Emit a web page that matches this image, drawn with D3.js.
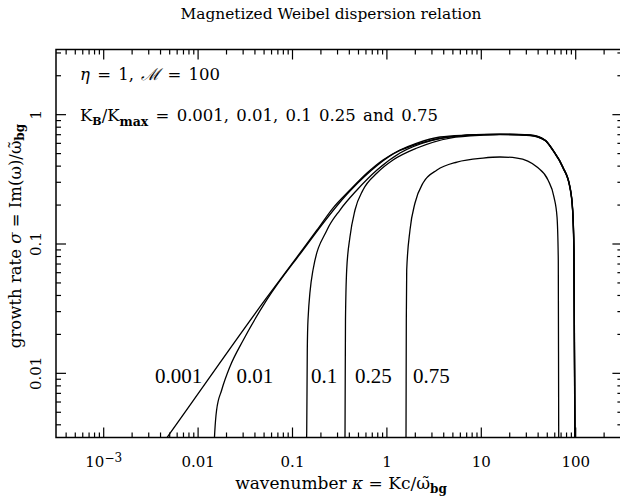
<!DOCTYPE html>
<html>
<head>
<meta charset="utf-8">
<script src="https://cdn.jsdelivr.net/npm/d3@7"></script>
<style>
  body { margin: 0; background: #fff; }
  svg { display: block; }
</style>
</head>
<body>
<script>
// growth rate curves, [kappa, sigma]
const curve0001 = [
  [0.0045, 0.003], [0.00478, 0.00319], [0.0518, 0.0366], [0.1216, 0.0845], [0.184, 0.1272],
  [0.2716, 0.188], [0.411, 0.2593], [0.623, 0.3508], [0.92, 0.4421], [1.393, 0.528],
  [2.11, 0.598], [3.7, 0.666], [7.14, 0.69], [15.97, 0.702], [33.2, 0.69], [47.9, 0.631],
  [58.2, 0.528], [74.2, 0.39], [88.1, 0.2734], [94.1, 0.1815], [97.1, 0.0891], [99.5, 0.003]
];
const curve001 = [
  [0.01503, 0.003], [0.0152, 0.0035], [0.0159, 0.00516], [0.018, 0.00736], [0.022, 0.01115],
  [0.0305, 0.01795], [0.054, 0.0366], [0.1216, 0.0829], [0.411, 0.2547], [1.393, 0.524],
  [7.14, 0.687], [15.97, 0.699], [33.2, 0.688], [47.9, 0.629], [58.2, 0.526], [74.2, 0.388],
  [88.1, 0.272], [94.1, 0.18], [97.0, 0.088], [99.4, 0.003]
];
const curve01 = [
  [0.1424, 0.003], [0.1432, 0.0035], [0.1452, 0.015], [0.1477, 0.0256], [0.1669, 0.0624],
  [0.2349, 0.1272], [0.3225, 0.1815], [0.488, 0.2593], [0.795, 0.37], [1.393, 0.501],
  [3.117, 0.631], [7.14, 0.685], [15.97, 0.697], [33.2, 0.686], [47.9, 0.627], [58.2, 0.524],
  [74.2, 0.386], [88.1, 0.27], [94.0, 0.179], [96.9, 0.087], [99.3, 0.003]
];
const curve025 = [
  [0.364, 0.003], [0.3645, 0.0035], [0.3686, 0.0256], [0.3796, 0.0624], [0.411, 0.1122],
  [0.465, 0.1815], [0.565, 0.2593], [0.795, 0.3508], [1.175, 0.4421], [2.11, 0.5475],
  [4.72, 0.654], [10.55, 0.688], [15.97, 0.695], [33.2, 0.684], [47.9, 0.625], [58.2, 0.522],
  [74.2, 0.384], [88.0, 0.268], [93.9, 0.178], [96.8, 0.086], [99.2, 0.003]
];
const curve075 = [
  [1.613, 0.003], [1.614, 0.0035], [1.625, 0.0256], [1.641, 0.0624], [1.778, 0.1272],
  [2.009, 0.2056], [2.442, 0.2936], [3.436, 0.37], [5.597, 0.4267], [10.55, 0.458],
  [15.97, 0.4665], [24.2, 0.458], [39.4, 0.39], [51.5, 0.3097], [59.6, 0.2288], [64.2, 0.1602],
  [66.2, 0.0745], [66.85, 0.0035], [66.9, 0.003]
];
const curves = [curve0001, curve001, curve01, curve025, curve075];
const curveLabels = ['0.001', '0.01', '0.1', '0.25', '0.75'];
const xMajor = [1e-3, 1e-2, 1e-1, 1, 10, 100];
const yMajor = [0.01, 0.1, 1];

const width = 620, height = 497;
const margin = { top: 49.5, right: -2.4, bottom: 59.5, left: 56 };
const innerW = width - margin.left - margin.right;
const innerH = height - margin.top - margin.bottom;

const svg = d3.select('body').append('svg')
    .attr('width', width)
    .attr('height', height);

const x = d3.scaleLog().domain([Math.pow(10, -3.5), Math.pow(10, 2.5)]).range([0, innerW]);
const y = d3.scaleLog().domain([Math.pow(10, -2.5), Math.pow(10, 0.5)]).range([innerH, 0]);

const g = svg.append('g')
    .attr('transform', 'translate(' + margin.left + ',' + margin.top + ')');

svg.append('defs').append('clipPath').attr('id', 'plot')
  .append('rect').attr('width', innerW).attr('height', innerH);

const serifFont = '"Liberation Serif", "Times New Roman", serif';
const hersheyFont = '"DejaVu Serif", serif';

// minor ticks = everything d3 gives that is not a decade
const isMajor = v => Math.abs(Math.log10(v) - Math.round(Math.log10(v))) < 1e-6;
const xMinor = x.ticks().filter(v => !isMajor(v));
const yMinor = y.ticks().filter(v => !isMajor(v));

function tickAxis(axisFn, scale, values, size, tx, ty) {
  const a = g.append('g')
    .attr('transform', 'translate(' + tx + ',' + ty + ')')
    .call(axisFn(scale).tickValues(values).tickSize(-size).tickFormat(''));
  a.select('.domain').remove();
  a.selectAll('line').attr('stroke', '#000').attr('stroke-width', 1.2);
  return a;
}

// ticks on all four sides pointing inwards
[[d3.axisBottom, x, 0, innerH], [d3.axisTop, x, 0, 0]].forEach(([fn, s, tx, ty]) => {
  tickAxis(fn, s, xMajor, 10, tx, ty);
  tickAxis(fn, s, xMinor, 5, tx, ty);
});
[[d3.axisLeft, y, 0, 0], [d3.axisRight, y, innerW, 0]].forEach(([fn, s, tx, ty]) => {
  tickAxis(fn, s, yMajor, 10, tx, ty);
  tickAxis(fn, s, yMinor, 5, tx, ty);
});

// tick labels
const xLab = g.append('g')
    .attr('transform', 'translate(0,' + innerH + ')')
    .call(d3.axisBottom(x).tickValues(xMajor).tickSize(0).tickPadding(19)
      .tickFormat(d => d === 1e-3 ? '' : d3.format('~g')(d)));
xLab.select('.domain').remove();
xLab.selectAll('text').attr('font-family', hersheyFont).attr('font-size', 15).attr('fill', '#000');
xLab.selectAll('.tick').filter(d => d === 1e-3).select('text')
  .call(t => {
    t.append('tspan').text('10');
    t.append('tspan').attr('dy', '-0.45em').attr('font-size', 12).text('\u22123');
  });

const yLab = g.append('g')
    .call(d3.axisLeft(y).tickValues(yMajor).tickSize(0).tickFormat(d3.format('~g')));
yLab.select('.domain').remove();
yLab.selectAll('text')
    .attr('font-family', hersheyFont).attr('font-size', 15).attr('fill', '#000')
    .attr('transform', 'rotate(-90)')
    .attr('x', 0).attr('y', -15).attr('dy', 0)
    .attr('text-anchor', 'middle');

// frame
g.append('rect')
    .attr('width', innerW).attr('height', innerH)
    .attr('fill', 'none').attr('stroke', '#000').attr('stroke-width', 1.5);

// curves
const line = d3.line()
    .x(d => x(d[0]))
    .y(d => y(d[1]))
    .curve(d3.curveMonotoneX);

g.append('g').attr('clip-path', 'url(#plot)')
  .selectAll('path')
  .data(curves)
  .join('path')
    .attr('d', line)
    .attr('fill', 'none')
    .attr('stroke', '#000')
    .attr('stroke-width', 1.3);

// curve labels placed at the bottom of the panel
const labelK = [0.00354, 0.0258, 0.159, 0.465, 1.91];
g.selectAll('.clabel')
  .data(curveLabels)
  .join('text')
    .attr('class', 'clabel')
    .attr('x', (d, i) => x(labelK[i]))
    .attr('y', y(0.00834))
    .attr('font-family', serifFont)
    .attr('font-size', 21)
    .text(d => d);

// annotations
const ann1 = g.append('text')
    .attr('x', 24).attr('y', 30)
    .attr('font-family', hersheyFont).attr('font-size', 16.5)
    .attr('word-spacing', 2);
ann1.append('tspan').attr('font-style', 'italic').text('\u03b7');
ann1.append('tspan').text(' = 1, ');
ann1.append('tspan').attr('font-style', 'italic').text('\u2133');
ann1.append('tspan').text(' = 100');

const ann2 = g.append('text')
    .attr('x', 24).attr('y', 71)
    .attr('font-family', hersheyFont).attr('font-size', 16.5)
    .attr('word-spacing', 2);
ann2.append('tspan').text('K');
ann2.append('tspan').attr('dy', 4).attr('font-size', 11).attr('font-weight', 'bold').text('B');
ann2.append('tspan').attr('dy', -4).text('/K');
ann2.append('tspan').attr('dy', 5).attr('font-size', 12.5).attr('font-weight', 'bold').text('max');
ann2.append('tspan').attr('dy', -5).text(' = 0.001, 0.01, 0.1 0.25 and 0.75');

// title
svg.append('text')
    .attr('x', 331).attr('y', 19)
    .attr('text-anchor', 'middle')
    .attr('font-family', hersheyFont).attr('font-size', 15.4)
    .text('Magnetized Weibel dispersion relation');

// axis titles
const xt = svg.append('text')
    .attr('x', 341).attr('y', 489)
    .attr('text-anchor', 'middle')
    .attr('font-family', hersheyFont).attr('font-size', 17);
xt.append('tspan').text('wavenumber ');
xt.append('tspan').attr('font-style', 'italic').text('\u03ba');
xt.append('tspan').text(' = Kc/\u03c9\u0303');
xt.append('tspan').attr('dy', 4).attr('font-size', 12).attr('font-weight', 'bold').text('bg');

const yt = svg.append('text')
    .attr('transform', 'translate(21,236) rotate(-90)')
    .attr('text-anchor', 'middle')
    .attr('font-family', hersheyFont).attr('font-size', 16.5);
yt.append('tspan').text('growth rate ');
yt.append('tspan').attr('font-style', 'italic').text('\u03c3');
yt.append('tspan').text(' = Im(\u03c9)/\u03c9\u0303');
yt.append('tspan').attr('dy', 3).attr('font-size', 12).attr('font-weight', 'bold').text('bg');
</script>
</body>
</html>
